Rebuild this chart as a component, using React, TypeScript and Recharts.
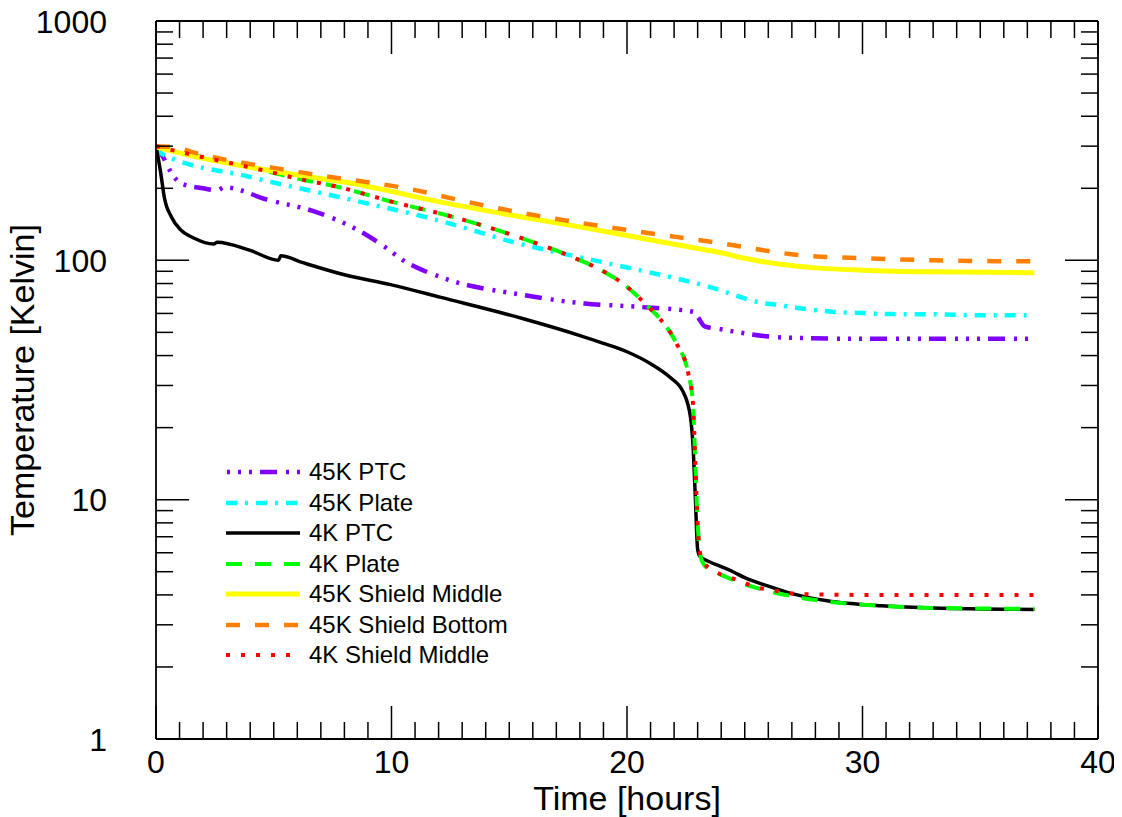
import React from 'react';
import { LineChart, Line, XAxis, YAxis, Legend, Label } from 'recharts';

const FONT = '"Liberation Sans", Arial, Helvetica, sans-serif';

// ---- tick values ----
const xMajor = [0, 10, 20, 30, 40];
const xTicks = Array.from({ length: 41 }, (_, i) => i);
const yMajor = [1, 10, 100, 1000];
const yTicks = [1, 2, 3, 4, 5, 6, 7, 8, 9, 10, 20, 30, 40, 50, 60, 70, 80, 90, 100, 200, 300, 400, 500, 600, 700, 800, 900, 1000];

// ---- series (time in hours, temperature in K) ----
const ptc45Time = [0, 0.3, 0.65, 1.05, 2.0, 2.6, 2.9, 4.75, 6.9, 8.8, 9.7, 10.5, 12.1, 15.6, 18.2, 20.4, 22.8, 23.0, 23.3, 24.0, 24.5, 26.6, 30, 37.3];
const ptc45Temp = [300, 270, 232, 210, 200, 196, 202, 179, 158, 130, 114, 100, 85, 71.6, 66, 64, 61, 58, 53, 51.5, 50.5, 47.6, 47, 47];

const plate45Time = [0, 0.2, 4.0, 8.3, 12.2, 15.2, 18.9, 22.0, 23.5, 24.4, 24.9, 25.7, 26.3, 27.5, 28.8, 30, 31.3, 33, 35.1, 37.3];
const plate45Temp = [292, 280, 223, 179, 145, 119, 98.5, 84.4, 77.5, 72.5, 69.8, 66.5, 65.3, 62.8, 60.9, 60.2, 59.6, 59.5, 59.0, 59];

const ptc4Time = [0, 0.2, 0.35, 0.65, 1.05, 1.6, 2.45, 2.6, 4.0, 5.2, 5.3, 6.2, 8, 10, 12.1, 15.6, 18, 19, 20, 21, 21.8, 22.4, 22.7, 22.8, 22.9, 23.0, 23.1, 23.5, 24.0, 24.5, 25.0, 26.0, 27.0, 28.5, 30.8, 33, 37.3];
const ptc4Temp = [300, 232, 184, 152, 134, 124, 117, 119, 110, 100, 104.5, 98, 87, 79, 70, 57, 48.5, 45, 41.5, 37, 32.6, 28, 22, 17, 10.3, 6.2, 5.8, 5.5, 5.25, 5.0, 4.72, 4.35, 4.05, 3.78, 3.6, 3.53, 3.48];

const plate4Time = [0, 1.2, 2.6, 4.45, 6.15, 7.7, 10, 12.6, 15.4, 17.7, 18.9, 19.9, 20.9, 21.4, 22.1, 22.6, 22.8, 22.9, 23.0, 23.1, 23.2, 23.5, 24.0, 25.1, 26, 27.2, 28.5, 30.8, 33, 37.3];
const plate4Temp = [300, 281, 262, 239, 218, 203, 176, 152, 125, 103, 91, 79, 64, 57, 45, 33.8, 25.4, 14.2, 8.0, 6.0, 5.5, 5.1, 4.85, 4.4, 4.15, 3.92, 3.75, 3.6, 3.53, 3.5];

const shieldMid45Time = [0, 1.9, 4.0, 6.15, 8.3, 12.1, 15, 18, 20, 23, 24, 25, 26.6, 28, 30, 33, 37.3];
const shieldMid45Temp = [298, 268, 245, 226, 210, 175, 155, 138, 127, 112, 107.5, 102, 96, 93, 91, 89.5, 88.8];

const shieldBot45Time = [0, 0.8, 1.5, 6.3, 11.4, 12.5, 16.3, 20, 23.7, 27.4, 30.2, 33, 37.3];
const shieldBot45Temp = [300, 297, 284, 232, 193, 182, 153, 134, 119, 105, 102, 100, 99];

const shieldMid4Time = [0, 1.2, 2.6, 4.45, 6.15, 7.7, 10, 12.6, 15.4, 17.7, 18.9, 19.9, 20.9, 21.4, 22.1, 22.6, 22.8, 22.9, 23.0, 23.1, 23.25, 23.75, 24.3, 24.9, 25.5, 26.1, 26.8, 27.4, 30, 37.3];
const shieldMid4Temp = [300, 281, 262, 239, 218, 203, 176, 152, 125, 103, 91, 79, 64, 57, 45, 33.8, 25.4, 14.2, 8.0, 6.0, 5.5, 5.0, 4.76, 4.53, 4.3, 4.2, 4.08, 4.03, 4.0, 4.0];

const zip = (ts: number[], vs: number[]) => ts.map((t, i) => ({ t, v: vs[i] }));

const series = [
  { name: '45K PTC', data: zip(ptc45Time, ptc45Temp), color: '#7f00ff', width: 4.5, dash: '17 9 3 8 3 8 3 8', legendOffset: 25 },
  { name: '45K Plate', data: zip(plate45Time, plate45Temp), color: '#00ffff', width: 4.5, dash: '11 8 3 8', legendOffset: 0 },
  { name: '4K PTC', data: zip(ptc4Time, ptc4Temp), color: '#000000', width: 3.5, dash: undefined, legendOffset: 0 },
  { name: '4K Plate', data: zip(plate4Time, plate4Temp), color: '#00ff00', width: 4, dash: '16 13', legendOffset: 0 },
  { name: '45K Shield Middle', data: zip(shieldMid45Time, shieldMid45Temp), color: '#ffff00', width: 5, dash: undefined, legendOffset: 0 },
  { name: '45K Shield Bottom', data: zip(shieldBot45Time, shieldBot45Temp), color: '#ff8000', width: 4.5, dash: '14 15', legendOffset: 0 },
  { name: '4K Shield Middle', data: zip(shieldMid4Time, shieldMid4Temp), color: '#ff0000', width: 4, dash: '4 11', legendOffset: 0 },
];

const MAJOR = 33;
const MINOR = 17;
const TW = 1.5;

const BottomTick = (p: any) => {
  const v = p.payload.value;
  const major = xMajor.includes(v);
  return (
    <g>
      <line x1={p.x} y1={p.y} x2={p.x} y2={p.y - (major ? MAJOR : MINOR)} stroke="#000" strokeWidth={TW} />
      {major && (
        <text x={p.x} y={p.y + 34} textAnchor="middle" fontSize={32} fontFamily={FONT} fill="#000">{v}</text>
      )}
    </g>
  );
};

const TopTick = (p: any) => {
  const v = p.payload.value;
  const major = xMajor.includes(v);
  return <line x1={p.x} y1={p.y} x2={p.x} y2={p.y + (major ? MAJOR : MINOR)} stroke="#000" strokeWidth={TW} />;
};

const LeftTick = (p: any) => {
  const v = p.payload.value;
  const major = yMajor.includes(v);
  return (
    <g>
      <line x1={p.x} y1={p.y} x2={p.x + (major ? MAJOR : MINOR)} y2={p.y} stroke="#000" strokeWidth={TW} />
      {major && (
        <text x={p.x - 49} y={p.y + 11.5} textAnchor="end" fontSize={32} fontFamily={FONT} fill="#000">{v}</text>
      )}
    </g>
  );
};

const RightTick = (p: any) => {
  const v = p.payload.value;
  const major = yMajor.includes(v);
  return <line x1={p.x} y1={p.y} x2={p.x - (major ? MAJOR : MINOR)} y2={p.y} stroke="#000" strokeWidth={TW} />;
};

const renderLegend = () => (
  <div style={{ fontFamily: FONT, fontSize: 24, color: '#000' }}>
    {series.map((s) => (
      <div key={s.name} style={{ height: 30.5, display: 'flex', alignItems: 'center', whiteSpace: 'nowrap' }}>
        <svg width={83} height={30} style={{ display: 'block' }}>
          <line
            x1={0}
            y1={15}
            x2={74}
            y2={15}
            stroke={s.color}
            strokeWidth={s.width}
            strokeDasharray={s.dash}
            strokeDashoffset={s.legendOffset}
          />
        </svg>
        <span>{s.name}</span>
      </div>
    ))}
  </div>
);

const axisLine = { stroke: '#000', strokeWidth: 1.8 };

export default function App() {
  return (
    <div style={{ width: 1122, height: 817, margin: '-8px 0 0 -8px', background: '#fff' }}>
      <LineChart width={1122} height={817} margin={{ top: 20, right: 23, bottom: 18, left: 56 }}>
        <XAxis
          xAxisId="b"
          dataKey="t"
          type="number"
          domain={[0, 40]}
          allowDataOverflow
          ticks={xTicks}
          interval={0}
          tickSize={0}
          tickMargin={0}
          tickLine={false}
          axisLine={axisLine}
          height={60}
          tick={(p: any) => <BottomTick {...p} />}
        >
          <Label
            content={(lp: any) => {
              const vb = lp.viewBox;
              return (
                <text x={vb.x + vb.width / 2} y={vb.y + 71} textAnchor="middle" fontSize={34} fontFamily={FONT} fill="#000">
                  Time [hours]
                </text>
              );
            }}
          />
        </XAxis>
        <XAxis
          xAxisId="t"
          orientation="top"
          dataKey="t"
          type="number"
          domain={[0, 40]}
          allowDataOverflow
          ticks={xTicks}
          interval={0}
          tickSize={0}
          tickMargin={0}
          tickLine={false}
          axisLine={axisLine}
          height={1}
          tick={(p: any) => <TopTick {...p} />}
        />
        <YAxis
          yAxisId="l"
          scale="log"
          type="number"
          domain={[1, 1000]}
          allowDataOverflow
          ticks={yTicks}
          interval={0}
          tickSize={0}
          tickMargin={0}
          tickLine={false}
          axisLine={axisLine}
          width={100}
          tick={(p: any) => <LeftTick {...p} />}
        >
          <Label
            content={(lp: any) => {
              const vb = lp.viewBox;
              const cx = vb.x - 22;
              const cy = vb.y + vb.height / 2;
              return (
                <text x={cx} y={cy} transform={`rotate(-90, ${cx}, ${cy})`} textAnchor="middle" fontSize={34} fontFamily={FONT} fill="#000">
                  Temperature [Kelvin]
                </text>
              );
            }}
          />
        </YAxis>
        <YAxis
          yAxisId="r"
          orientation="right"
          scale="log"
          type="number"
          domain={[1, 1000]}
          allowDataOverflow
          ticks={yTicks}
          interval={0}
          tickSize={0}
          tickMargin={0}
          tickLine={false}
          axisLine={axisLine}
          width={1}
          tick={(p: any) => <RightTick {...p} />}
        />
        <Legend
          layout="vertical"
          align="center"
          verticalAlign="middle"
          content={renderLegend}
          wrapperStyle={{ position: 'absolute', left: 226, top: 457, width: 330 }}
        />
        {series.map((s) => (
          <Line
            key={s.name}
            name={s.name}
            xAxisId="b"
            yAxisId="l"
            data={s.data}
            dataKey="v"
            type="monotone"
            stroke={s.color}
            strokeWidth={s.width}
            strokeDasharray={s.dash}
            dot={false}
            activeDot={false}
            isAnimationActive={false}
          />
        ))}
      </LineChart>
    </div>
  );
}
